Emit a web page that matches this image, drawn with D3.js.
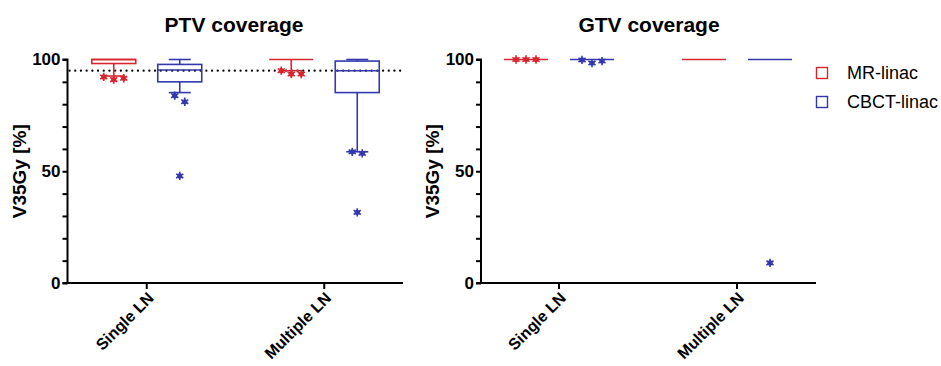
<!doctype html>
<html>
  <head>
    <script src="https://cdn.jsdelivr.net/npm/d3@7"></script>
    <style>
      body { margin: 0; background: #fff; }
      svg text { font-family: Arial, "Liberation Sans", sans-serif; }
    </style>
  </head>
  <body>
    <script>
      // groups on the x axis and the two machines compared
      var groups = ["Single LN", "Multiple LN"];
      var series = ["MR-linac", "CBCT-linac"];
      var colors = ["#d8262e", "#3339ad"];
      var yTicks = [0, 10, 20, 30, 40, 50, 60, 70, 80, 90, 100];
      var yLabels = [0, 50, 100];
      var threshold = 95;

      // PTV box stats, [group][series]
      var ptvLow    = [[92.6, 85.2], [95.0, 58.7]];
      var ptvQ1     = [[98.2, 90.0], [100, 85.2]];
      var ptvMedian = [[100, 95.3], [100, 95.0]];
      var ptvQ3     = [[100, 97.8], [100, 99.3]];
      var ptvHigh   = [[100, 100], [100, 100]];
      var ptvPoints = [[[92.2, 91.0, 91.6], [83.8, 81.1, 47.9]],
                       [[95.0, 93.5, 93.5], [58.7, 58.0, 31.6]]];

      // GTV box stats, [group][series]
      var gtvLow    = [[100, 100], [100, 100]];
      var gtvQ1     = [[100, 100], [100, 100]];
      var gtvMedian = [[100, 100], [100, 100]];
      var gtvQ3     = [[100, 100], [100, 100]];
      var gtvHigh   = [[100, 100], [100, 100]];
      var gtvPoints = [[[100, 100, 100], [99.8, 98.4, 99.3]],
                       [[], [9.0]]];

      var w = 941, h = 366;
      var svg = d3.select("body").append("svg")
                  .attr("width", w)
                  .attr("height", h);

      var y = d3.scaleLinear().domain([0, 100]).range([283, 59.5]);

      var inner = d3.scaleBand().domain(series)
                    .range([-55, 55]).paddingInner(1 / 3).paddingOuter(0);

      var star = d3.symbol().type(d3.symbolAsterisk).size(48);

      // spread points that sit close together side by side
      function jitter(vals) {
        var out = [], used = vals.map(function() { return false; });
        for (var i = 0; i < vals.length; i++) {
          if (used[i]) continue;
          var cluster = [i];
          used[i] = true;
          for (var j = i + 1; j < vals.length; j++) {
            if (!used[j] && Math.abs(vals[j] - vals[i]) < 4) { cluster.push(j); used[j] = true; }
          }
          cluster.forEach(function(k, n) {
            out[k] = (n - (cluster.length - 1) / 2) * 10;
          });
        }
        return vals.map(function(v, k) { return { v: v, dx: out[k] }; });
      }

      function panel(opts) {
        var g = svg.append("g");
        var x = d3.scaleBand().domain(groups).range(opts.range);

        // y axis
        var yAxis = d3.axisLeft(y).tickValues(yTicks).tickSize(5)
                      .tickFormat(function(d) { return yLabels.indexOf(d) >= 0 ? d : ""; });
        var ya = g.append("g").attr("transform", "translate(" + opts.axisX + ",0)").call(yAxis);
        ya.select(".domain").attr("d", "M-5," + y(100) + "H0V" + y(0) + "H-5")
          .attr("stroke", "#000").attr("stroke-width", 2).attr("fill", "none");
        ya.selectAll(".tick line").attr("stroke", "#000").attr("stroke-width", 2);
        ya.selectAll(".tick text").attr("font-size", 17).attr("font-weight", "bold")
          .attr("fill", "#000").attr("x", -7);

        // x axis
        var xAxis = d3.axisBottom(x).tickSize(6).tickSizeOuter(0);
        var xa = g.append("g").attr("transform", "translate(0," + y(0) + ")").call(xAxis);
        xa.select(".domain").attr("d", "M" + (opts.axisX - 4) + ",0H" + opts.axisEnd)
          .attr("stroke", "#000").attr("stroke-width", 2);
        xa.selectAll(".tick line").attr("stroke", "#000").attr("stroke-width", 2);
        xa.selectAll(".tick text")
          .attr("font-size", 16).attr("font-weight", "bold").attr("fill", "#000")
          .attr("text-anchor", "end").attr("dy", null).attr("y", 0)
          .attr("transform", "translate(8,16) rotate(-45)");

        // titles
        g.append("text").attr("x", opts.titleX).attr("y", 32)
         .attr("text-anchor", "middle").attr("font-size", 21).attr("font-weight", "bold")
         .text(opts.title);
        g.append("text")
         .attr("transform", "translate(" + opts.labelX + "," + y(50) + ") rotate(-90)")
         .attr("text-anchor", "middle").attr("font-size", 19).attr("font-weight", "bold")
         .text("V35Gy [%]");

        // reference line
        if (opts.refLine) {
          g.append("line")
           .attr("x1", opts.axisX + 2).attr("x2", opts.axisEnd)
           .attr("y1", y(threshold)).attr("y2", y(threshold))
           .attr("stroke", "#000").attr("stroke-width", 2.2)
           .attr("stroke-dasharray", "0.1,5.6").attr("stroke-linecap", "round");
        }

        var s = opts.stats;
        groups.forEach(function(grp, gi) {
          series.forEach(function(ser, si) {
            var cx = x(grp) + x.bandwidth() / 2 + inner(ser) + inner.bandwidth() / 2;
            var bw = inner.bandwidth();
            var col = colors[si];
            var b = g.append("g").attr("stroke", col).attr("fill", "none").attr("stroke-width", 1.6);
            var lo = s.low[gi][si], q1 = s.q1[gi][si], md = s.median[gi][si],
                q3 = s.q3[gi][si], hi = s.high[gi][si];

            // whiskers and caps
            if (hi > q3) {
              b.append("line").attr("x1", cx).attr("x2", cx).attr("y1", y(q3)).attr("y2", y(hi));
              b.append("line").attr("x1", cx - 11).attr("x2", cx + 11).attr("y1", y(hi)).attr("y2", y(hi));
            }
            if (lo < q1) {
              b.append("line").attr("x1", cx).attr("x2", cx).attr("y1", y(q1)).attr("y2", y(lo));
              b.append("line").attr("x1", cx - 11).attr("x2", cx + 11).attr("y1", y(lo)).attr("y2", y(lo));
            }
            // box
            if (q3 > q1) {
              b.append("rect").attr("x", cx - bw / 2).attr("width", bw)
               .attr("y", y(q3)).attr("height", y(q1) - y(q3));
            }
            b.append("line").attr("x1", cx - bw / 2).attr("x2", cx + bw / 2)
             .attr("y1", y(md)).attr("y2", y(md));

            // points outside the whiskers
            var pts = jitter(s.points[gi][si]);
            var pg = g.append("g");
            pg.selectAll("path").data(pts).enter().append("path")
              .attr("d", star)
              .attr("transform", function(d) { return "translate(" + (cx + d.dx) + "," + y(d.v) + ")"; })
              .attr("stroke", col).attr("stroke-width", 1.6).attr("fill", col);
            pg.selectAll("circle").data(pts).enter().append("circle")
              .attr("cx", function(d) { return cx + d.dx; })
              .attr("cy", function(d) { return y(d.v); })
              .attr("r", 2.6).attr("fill", col);
          });
        });
      }

      panel({
        title: "PTV coverage", titleX: 234, labelX: 26,
        range: [58, 413], axisX: 67.5, axisEnd: 403, refLine: true,
        stats: { low: ptvLow, q1: ptvQ1, median: ptvMedian, q3: ptvQ3, high: ptvHigh, points: ptvPoints }
      });

      panel({
        title: "GTV coverage", titleX: 649, labelX: 439,
        range: [470, 826], axisX: 481, axisEnd: 816, refLine: false,
        stats: { low: gtvLow, q1: gtvQ1, median: gtvMedian, q3: gtvQ3, high: gtvHigh, points: gtvPoints }
      });

      // legend
      var legend = svg.append("g").attr("transform", "translate(816,67)");
      series.forEach(function(ser, i) {
        var row = legend.append("g").attr("transform", "translate(0," + (i * 29) + ")");
        row.append("rect").attr("x", 0.5).attr("y", 0.5).attr("width", 11).attr("height", 11)
           .attr("fill", "none").attr("stroke", colors[i]).attr("stroke-width", 1.4);
        row.append("text").attr("x", 31).attr("y", 12).attr("font-size", 18)
           .attr("fill", "#000").text(ser);
      });
    </script>
  </body>
</html>
